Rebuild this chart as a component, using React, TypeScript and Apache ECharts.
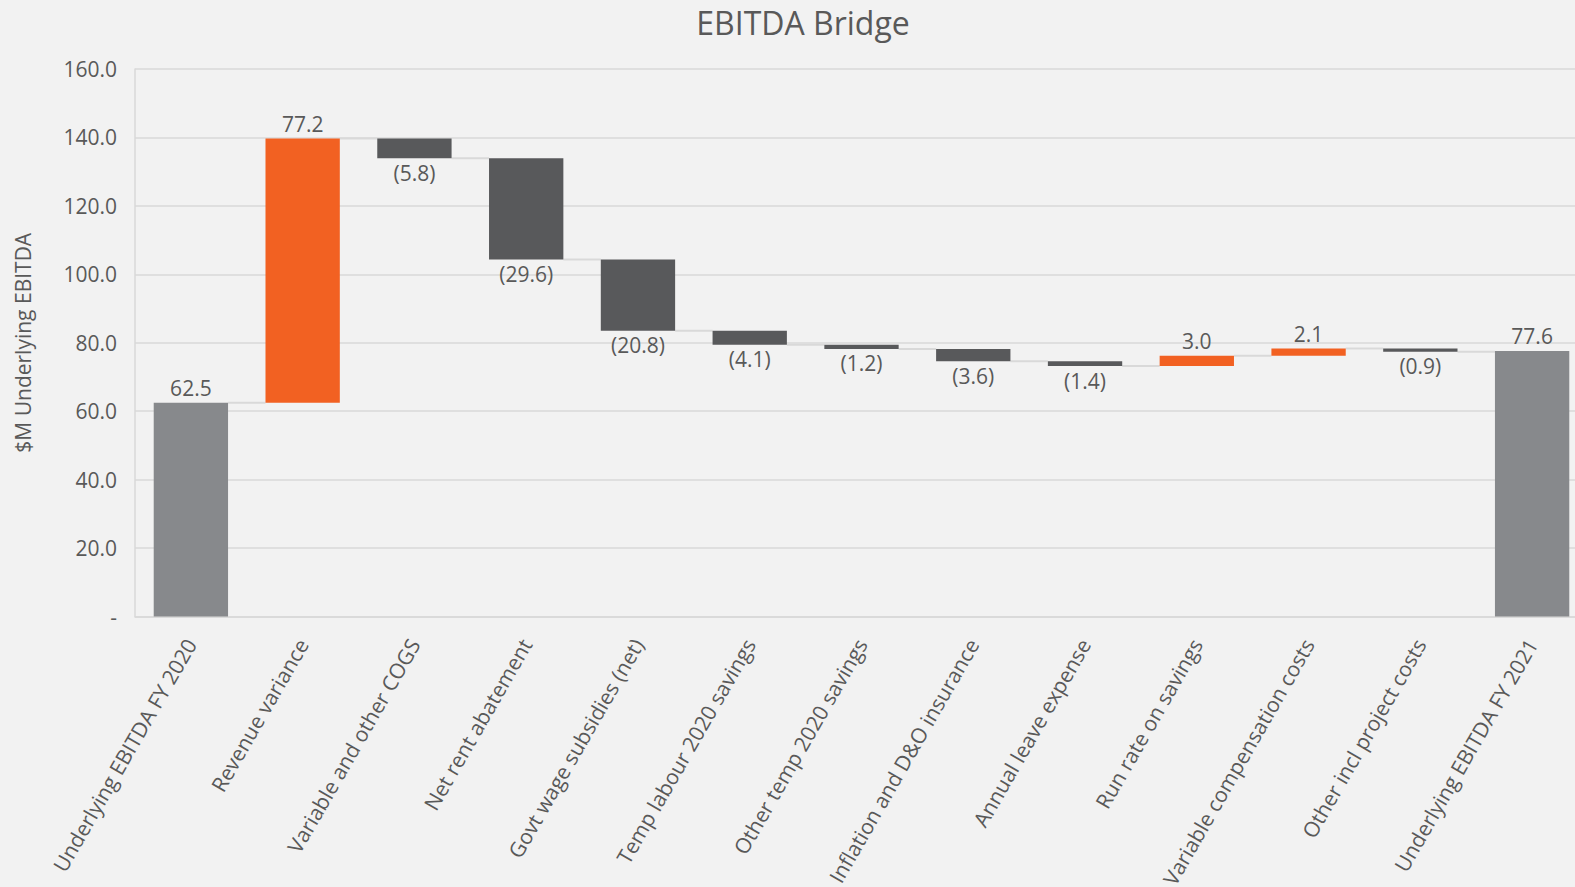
import React, { useEffect, useRef } from "react";
import * as echarts from "echarts";

const categories = [
  "Underlying EBITDA FY 2020",
  "Revenue variance",
  "Variable and other COGS",
  "Net rent abatement",
  "Govt wage subsidies (net)",
  "Temp labour 2020 savings",
  "Other temp 2020 savings",
  "Inflation and D&O insurance",
  "Annual leave expense",
  "Run rate on savings",
  "Variable compensation costs",
  "Other incl project costs",
  "Underlying EBITDA FY 2021",
];
const values = [62.5, 77.2, -5.8, -29.6, -20.8, -4.1, -1.2, -3.6, -1.4, 3.0, 2.1, -0.9, 77.6];
const isTotal = [true, false, false, false, false, false, false, false, false, false, false, false, true];
const yTicks = [0, 20, 40, 60, 80, 100, 120, 140, 160];

const COLORS = { total: "#87898c", pos: "#f26122", neg: "#58595b" };
const TEXT = "#595959";
const FONT = "'Open Sans', sans-serif";

export default function App() {
  const ref = useRef<HTMLDivElement>(null);
  useEffect(() => {
    if (!ref.current) return;
    const chart = echarts.init(ref.current, null, { renderer: "svg" });

    const bases: number[] = [];
    const heights: any[] = [];
    const ends: number[] = [];
    let run = 0;
    values.forEach((v, i) => {
      let base: number, end: number;
      if (isTotal[i]) {
        base = 0;
        end = v;
      } else if (v >= 0) {
        base = run;
        end = run + v;
      } else {
        base = run + v;
        end = run + v;
      }
      run = end;
      bases.push(base);
      ends.push(end);
      const color = isTotal[i] ? COLORS.total : v >= 0 ? COLORS.pos : COLORS.neg;
      heights.push({
        value: Math.abs(v),
        itemStyle: { color },
        label: {
          show: true,
          position: v >= 0 ? "top" : "bottom",
          distance: 4,
          formatter: v >= 0 ? v.toFixed(1) : `(${Math.abs(v).toFixed(1)})`,
          color: TEXT,
          fontSize: 21,
          fontFamily: FONT,
        },
      });
    });
    const connectors = ends.slice(0, -1).map((e, i) => [i, e]);

    const yMax = yTicks[yTicks.length - 1];
    const yInterval = yTicks[1] - yTicks[0];

    chart.setOption({
      animation: false,
      backgroundColor: "#f2f2f2",
      title: {
        text: "EBITDA Bridge",
        left: 798,
        top: 1,
        textAlign: "center",
        textStyle: { color: TEXT, fontSize: 32, fontWeight: "normal", fontFamily: FONT },
      },
      grid: {
        left: 135,
        right: 12,
        top: 69,
        height: 547.5,
        containLabel: false,
        outerBoundsMode: "none",
      },
      xAxis: {
        type: "category",
        data: categories,
        axisLine: { lineStyle: { color: "#d9d9d9", width: 1.5 } },
        axisTick: { show: false },
        axisLabel: {
          interval: 0,
          rotate: 60,
          margin: 24,
          color: TEXT,
          fontSize: 21,
          fontFamily: FONT,
        },
      },
      yAxis: {
        type: "value",
        min: 0,
        max: yMax,
        interval: yInterval,
        name: "$M Underlying EBITDA",
        nameLocation: "middle",
        nameGap: 102,
        nameTextStyle: { color: TEXT, fontSize: 21, fontFamily: FONT },
        axisLine: { show: true, lineStyle: { color: "#d9d9d9", width: 1.5 } },
        axisTick: { show: false },
        splitLine: { lineStyle: { color: "#d9d9d9", width: 1.5 } },
        axisLabel: {
          margin: 18,
          color: TEXT,
          fontSize: 21,
          fontFamily: FONT,
          formatter: (v: number) => (v === 0 ? "-" : v.toFixed(1)),
        },
      },
      series: [
        {
          type: "custom",
          coordinateSystem: "cartesian2d",
          data: connectors,
          encode: { x: 0, y: 1 },
          z: 1,
          silent: true,
          renderItem: (params: any, api: any) => {
            const i = api.value(0);
            const lvl = api.value(1);
            const p = api.coord([i, lvl]);
            const w = api.size([1, 0])[0];
            const half = (w * 0.665) / 2;
            return {
              type: "line",
              shape: { x1: p[0] + half, y1: p[1], x2: p[0] + w - half, y2: p[1] },
              style: { stroke: "#d9d9d9", lineWidth: 2 },
            };
          },
        },
        {
          type: "bar",
          stack: "wf",
          data: bases,
          barWidth: "66.5%",
          itemStyle: { color: "transparent" },
          emphasis: { disabled: true },
          silent: true,
          z: 2,
        },
        {
          type: "bar",
          stack: "wf",
          data: heights,
          barWidth: "66.5%",
          z: 3,
        },
      ],
    });
    return () => chart.dispose();
  }, []);
  return (
    <div
      style={{
        position: "fixed",
        left: 0,
        top: 0,
        width: 1575,
        height: 887,
        overflow: "hidden",
        background: "#f2f2f2",
      }}
    >
      <div ref={ref} style={{ width: 1600, height: 887 }} />
    </div>
  );
}
